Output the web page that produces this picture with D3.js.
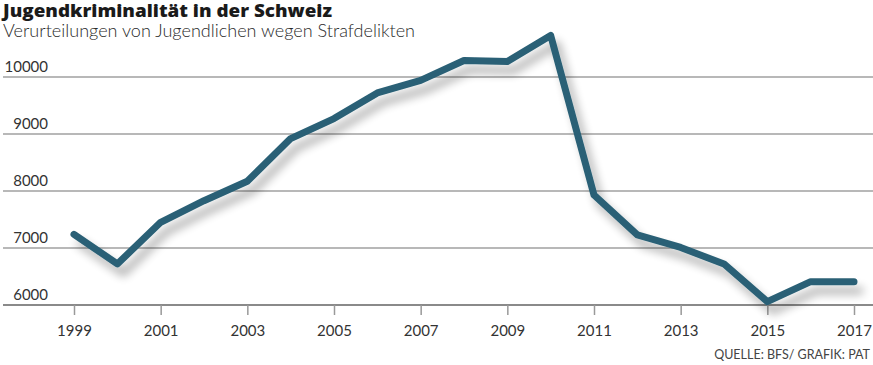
<!DOCTYPE html>
<html>
<head>
<meta charset="utf-8">
<script src="https://cdn.jsdelivr.net/npm/d3@7"></script>
<style>
  body { margin: 0; background: #fff; }
  svg { display: block; font-family: Lato, "Open Sans", sans-serif; }
</style>
</head>
<body>
<div id="chart"></div>
<script>
const years = [1999, 2000, 2001, 2002, 2003, 2004, 2005, 2006, 2007, 2008,
               2009, 2010, 2011, 2012, 2013, 2014, 2015, 2016, 2017];
const verurteilungen = [7240, 6720, 7450, 7830, 8170, 8920, 9270, 9720, 9940, 10290,
                        10270, 10730, 7930, 7230, 7010, 6720, 6060, 6410, 6410];
const yTicks = [6000, 7000, 8000, 9000, 10000];
const xTicks = [1999, 2001, 2003, 2005, 2007, 2009, 2011, 2013, 2015, 2017];

const width = 873, height = 365;

const svg = d3.select("#chart")
    .append("svg")
    .attr("width", width)
    .attr("height", height);

const x = d3.scaleLinear().domain([1999, 2017]).range([74, 854]);
const y = d3.scaleLinear().domain([6000, 10000]).range([305, 77]);

// soft shadow under the line
const defs = svg.append("defs");
const f = defs.append("filter").attr("id", "shadow")
    .attr("x", "-10%").attr("y", "-10%").attr("width", "130%").attr("height", "140%");
f.append("feGaussianBlur").attr("in", "SourceAlpha").attr("stdDeviation", 5);
f.append("feOffset").attr("dx", 6).attr("dy", 9).attr("result", "blur");
f.append("feComponentTransfer").append("feFuncA").attr("type", "linear").attr("slope", 0.32);
const merge = f.append("feMerge");
merge.append("feMergeNode");
merge.append("feMergeNode").attr("in", "SourceGraphic");

// title + subtitle
svg.append("text")
    .attr("x", 3).attr("y", 17)
    .attr("textLength", 329)
    .attr("lengthAdjust", "spacingAndGlyphs")
    .style("font-family", "'Open Sans', Lato, sans-serif")
    .style("font-size", "17px")
    .style("font-weight", 800)
    .style("fill", "#1a1a1a")
    .text("Jugendkriminalität in der Schweiz");

svg.append("text")
    .attr("x", 3).attr("y", 37)
    .attr("textLength", 412)
    .attr("lengthAdjust", "spacingAndGlyphs")
    .style("font-size", "17px")
    .style("font-weight", 300)
    .style("fill", "#2a2a2a")
    .text("Verurteilungen von Jugendlichen wegen Strafdelikten");

// gridlines
svg.append("g")
    .selectAll("line")
    .data(yTicks)
    .enter().append("line")
    .attr("x1", 3).attr("x2", width)
    .attr("y1", d => y(d)).attr("y2", d => y(d))
    .style("stroke", d => d === 6000 ? "#8a8a8a" : "#a0a0a0")
    .style("stroke-width", d => d === 6000 ? 2 : 1.5);

// y labels
svg.append("g")
    .selectAll("text")
    .data(yTicks)
    .enter().append("text")
    .attr("x", 48)
    .attr("y", d => y(d) - 5)
    .attr("text-anchor", "end")
    .style("font-size", "15px")
    .style("fill", "#333")
    .text(d => d);

// x axis
const xAxis = svg.append("g")
    .attr("transform", `translate(0,${y(6000)})`)
    .call(d3.axisBottom(x)
        .tickValues(xTicks)
        .tickFormat(d3.format("d"))
        .tickSize(10)
        .tickPadding(10));
xAxis.select(".domain").remove();
xAxis.selectAll("line").style("stroke", "#999").style("stroke-width", 1.5);
xAxis.selectAll("text")
    .style("font-family", "Lato, 'Open Sans', sans-serif")
    .style("font-size", "15px")
    .style("fill", "#333");

// line
const line = d3.line()
    .x((d, i) => x(years[i]))
    .y(d => y(d));

svg.append("path")
    .datum(verurteilungen)
    .attr("d", line)
    .attr("filter", "url(#shadow)")
    .style("fill", "none")
    .style("stroke", "#2b6176")
    .style("stroke-width", 7)
    .style("stroke-linejoin", "round")
    .style("stroke-linecap", "round");

// source
svg.append("text")
    .attr("x", 870).attr("y", 359)
    .attr("text-anchor", "end")
    .style("font-size", "12.5px")
    .style("fill", "#444")
    .text("QUELLE: BFS/ GRAFIK: PAT");
</script>
</body>
</html>
